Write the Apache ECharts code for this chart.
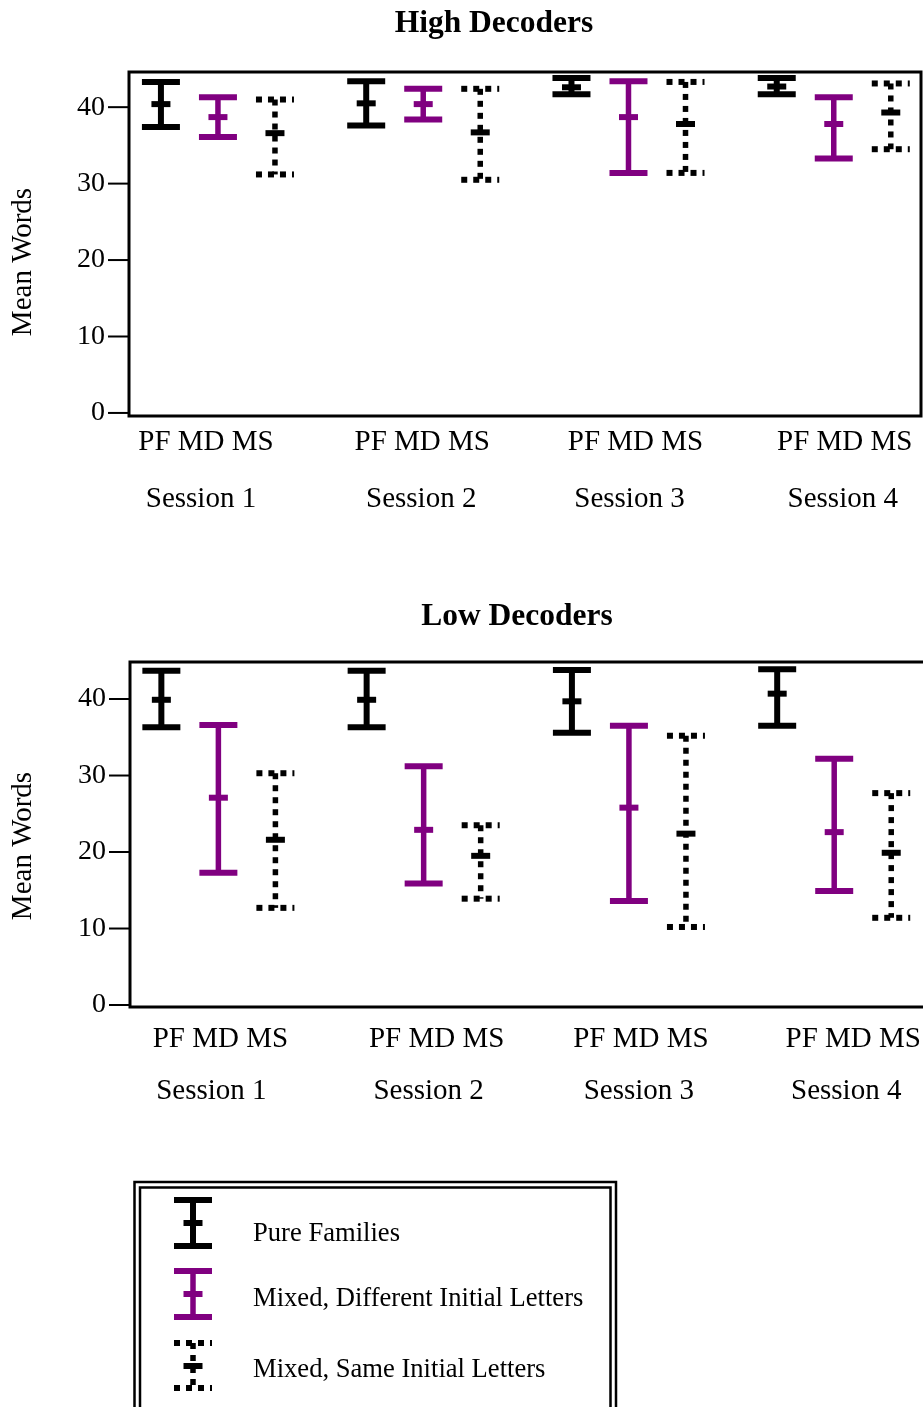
<!DOCTYPE html>
<html>
<head>
<meta charset="utf-8">
<script src="https://cdn.jsdelivr.net/npm/echarts@6/dist/echarts.min.js"></script>
<style>
html,body{margin:0;padding:0;background:#fff;}
#c{width:923px;height:1407px;}
</style>
</head>
<body>
<div id="c"></div>
<script>
// ---------------- DATA ----------------
const sessions = ['Session 1', 'Session 2', 'Session 3', 'Session 4'];
const conditions = ['PF', 'MD', 'MS'];
const conditionNames = ['Pure Families', 'Mixed, Different Initial Letters', 'Mixed, Same Initial Letters'];
const panelTitles = ['High Decoders', 'Low Decoders'];
const yAxisTitle = 'Mean Words';
const yTicks = [0, 10, 20, 30, 40];

// each entry: [lower, mean, upper] per session
const highPF = [[37.4, 40.4, 43.3], [37.6, 40.5, 43.4], [41.7, 42.6, 43.8], [41.7, 42.7, 43.8]];
const highMD = [[36.1, 38.7, 41.3], [38.4, 40.4, 42.4], [31.4, 38.7, 43.4], [33.3, 37.8, 41.3]];
const highMS = [[31.2, 36.6, 41.0], [30.5, 36.7, 42.4], [31.4, 37.8, 43.3], [34.5, 39.3, 43.1]];

const lowPF = [[36.3, 39.9, 43.7], [36.3, 39.9, 43.7], [35.6, 39.7, 43.8], [36.5, 40.7, 43.9]];
const lowMD = [[17.3, 27.1, 36.6], [15.9, 22.9, 31.2], [13.6, 25.8, 36.5], [14.9, 22.6, 32.2]];
const lowMS = [[12.7, 21.6, 30.3], [13.9, 19.5, 23.5], [10.2, 22.4, 35.2], [11.4, 19.9, 27.7]];

// ---------------- LAYOUT / STYLE ----------------
const FONT = '"Liberation Serif", "Times New Roman", serif';
const PURPLE = '#800080';
const SESSION_GAP = 3.6; // x-units between sessions (conditions are 1 unit apart)
const condStyles = [
  {color: '#000', dotted: false, vw: 6},
  {color: PURPLE, dotted: false, vw: 5.5},
  {color: '#000', dotted: true, vw: 5.5}
];
const panels = [
  {series: [highPF, highMD, highMS], grid: {left: 129, top: 72, width: 792, height: 344},
   yMin: -0.4, yMax: 44.6, xMin: -0.56, xMax: 13.33,
   condLabelDy: 26, sessLabelDy: 83,
   condLabelDx: [-12, -1, 7, 11], sessLabelDx: [-17, -2, 1, 9], titleX: 494, titleY: 24, nameY: 262},
  {series: [lowPF, lowMD, lowMS], grid: {left: 130, top: 662, width: 800, height: 345},
   yMin: -0.26, yMax: 44.84, xMin: -0.55, xMax: 13.48,
   condLabelDy: 32, sessLabelDy: 84,
   condLabelDx: [2, 13, 12, 19], sessLabelDx: [-7, 5, 10, 12], titleX: 517, titleY: 617, nameY: 846}
];

function xPos(s, c) { return s * SESSION_GAP + c; }

function errorBarShapes(cx, yHi, yMean, yLo, st) {
  const dash = st.dotted ? [6, 6] : null;
  const mk = (x1, y1, x2, y2, lw, d) => ({
    type: 'line',
    shape: {x1: x1, y1: y1, x2: x2, y2: y2},
    style: {stroke: st.color, lineWidth: lw, lineDash: d, lineCap: 'butt'}
  });
  return [
    mk(cx, yHi, cx, yLo, st.vw, dash),
    mk(cx - 19, yHi, cx + 19, yHi, 6, dash),
    mk(cx - 19, yLo, cx + 19, yLo, 6, dash),
    mk(cx - 9.5, yMean, cx + 9.5, yMean, 6, null)
  ];
}

const grids = [], xAxes = [], yAxes = [], series = [], graphics = [];

panels.forEach((p, pi) => {
  grids.push(Object.assign({show: true, borderColor: '#000', borderWidth: 3, backgroundColor: 'transparent',
    containLabel: false, outerBoundsMode: 'none'}, p.grid));
  xAxes.push({type: 'value', gridIndex: pi, min: p.xMin, max: p.xMax,
    axisLine: {show: false}, axisTick: {show: false}, axisLabel: {show: false}, splitLine: {show: false}});
  yAxes.push({type: 'value', gridIndex: pi, min: p.yMin, max: p.yMax,
    axisLine: {show: false},
    splitLine: {show: false},
    axisTick: {show: false},
    axisLabel: {show: true, margin: 24, customValues: yTicks, color: '#000', fontFamily: FONT, fontSize: 28}
  });

  // y-axis tick marks (outside, pointing left)
  series.push({
    type: 'custom',
    xAxisIndex: pi, yAxisIndex: pi,
    clip: false, silent: true,
    encode: {y: 0},
    data: yTicks.map(v => [v]),
    renderItem: function (params, api) {
      const pt = api.coord([p.xMin, api.value(0)]);
      return {type: 'line', shape: {x1: pt[0] - 21, y1: pt[1], x2: pt[0], y2: pt[1]},
        style: {stroke: '#000', lineWidth: 2}};
    }
  });

  p.series.forEach((arr, ci) => {
    const st = condStyles[ci];
    series.push({
      type: 'custom',
      name: conditionNames[ci],
      xAxisIndex: pi, yAxisIndex: pi,
      clip: false,
      encode: {x: 0, y: [1, 2, 3]},
      data: arr.map((v, s) => [xPos(s, ci), v[0], v[1], v[2]]),
      renderItem: function (params, api) {
        const x = api.value(0);
        const lo = api.coord([x, api.value(1)]);
        const me = api.coord([x, api.value(2)]);
        const hi = api.coord([x, api.value(3)]);
        return {type: 'group', children: errorBarShapes(lo[0], hi[1], me[1], lo[1], st)};
      }
    });
  });

  // category labels under each session
  series.push({
    type: 'custom',
    xAxisIndex: pi, yAxisIndex: pi,
    clip: false, silent: true,
    encode: {x: 0},
    data: sessions.map((s, si) => [xPos(si, 1), si]),
    renderItem: function (params, api) {
      const si = api.value(1);
      const base = api.coord([api.value(0), p.yMin]);
      return {type: 'group', children: [
        {type: 'text', style: {text: conditions.join(' '), x: base[0] + p.condLabelDx[si], y: base[1] + p.condLabelDy,
          align: 'center', verticalAlign: 'middle', font: '29px ' + FONT, fill: '#000'}},
        {type: 'text', style: {text: sessions[si], x: base[0] + p.sessLabelDx[si], y: base[1] + p.sessLabelDy,
          align: 'center', verticalAlign: 'middle', font: '29px ' + FONT, fill: '#000'}}
      ]};
    }
  });

  graphics.push({type: 'text', x: p.titleX, y: p.titleY,
    style: {text: panelTitles[pi], align: 'center', verticalAlign: 'middle', font: 'bold 31.5px ' + FONT, fill: '#000'}});
  graphics.push({type: 'text', x: 23, y: p.nameY, rotation: Math.PI / 2,
    style: {text: yAxisTitle, align: 'center', verticalAlign: 'middle', font: '29px ' + FONT, fill: '#000'}});
});

// legend box (double border)
graphics.push({type: 'rect', shape: {x: 134.5, y: 1182, width: 481.5, height: 260}, style: {fill: 'none', stroke: '#000', lineWidth: 2.5}});
graphics.push({type: 'rect', shape: {x: 140, y: 1187.5, width: 470.5, height: 250}, style: {fill: 'none', stroke: '#000', lineWidth: 2.5}});
const legendRows = [
  {hi: 1200, me: 1223, lo: 1246, ty: 1234},
  {hi: 1271, me: 1294, lo: 1317, ty: 1299},
  {hi: 1343, me: 1366, lo: 1388, ty: 1370}
];
legendRows.forEach((r, i) => {
  graphics.push({type: 'group', children: errorBarShapes(193, r.hi, r.me, r.lo, condStyles[i])});
  graphics.push({type: 'text', x: 253, y: r.ty,
    style: {text: conditionNames[i], align: 'left', verticalAlign: 'middle', font: '26.6px ' + FONT, fill: '#000'}});
});

const chart = echarts.init(document.getElementById('c'), null, {renderer: 'canvas'});
chart.setOption({
  animation: false,
  backgroundColor: '#fff',
  grid: grids,
  xAxis: xAxes,
  yAxis: yAxes,
  series: series,
  graphic: graphics
});
</script>
</body>
</html>
